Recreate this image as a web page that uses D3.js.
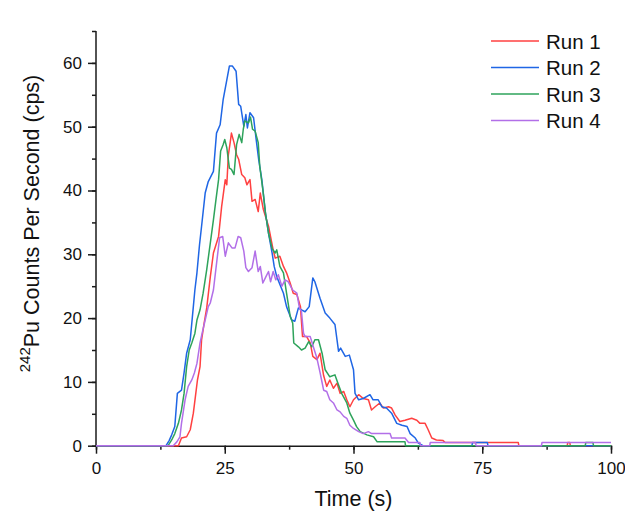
<!DOCTYPE html>
<html>
<head>
<meta charset="utf-8">
<script src="https://cdn.jsdelivr.net/npm/d3@7"></script>
<style>
  html, body { margin: 0; padding: 0; background: #fff; }
  svg { display: block; font-family: "Liberation Sans", Arial, sans-serif; }
</style>
</head>
<body>
<div id="chart"></div>
<script>
// [time (s), counts per second]
const run1 = [[0,0],[16.0,0],[16.6,1.2],[17.6,1.4],[18.3,2.5],[18.9,5.1],[19.3,7.7],[19.7,10.3],[20.2,12.4],[20.5,16.6],[21.0,19.2],[21.5,21.6],[22.2,26.5],[22.8,30.2],[23.8,32.8],[24.4,37.5],[25.1,41.7],[25.4,40.9],[25.7,45.6],[26.0,47.2],[26.3,49.0],[26.8,47.5],[27.3,45.6],[27.7,44.9],[28.3,42.5],[28.9,42.0],[29.3,40.9],[29.9,41.7],[30.3,38.3],[30.9,38.6],[31.5,36.7],[31.9,39.6],[32.5,37.0],[33.5,34.4],[34.4,30.7],[34.8,29.4],[35.7,29.7],[36.4,28.1],[37.0,27.1],[37.7,25.5],[38.3,23.9],[39.0,23.7],[39.7,21.8],[40.1,17.1],[40.9,17.1],[41.6,16.1],[42.1,14.0],[42.9,13.5],[43.5,14.5],[44.2,11.0],[44.8,9.3],[45.4,10.3],[46.1,9.0],[46.8,9.8],[47.4,8.2],[48.1,8.5],[48.7,7.2],[49.3,6.1],[50.0,7.2],[51.0,8.0],[51.9,7.4],[52.9,7.2],[53.5,5.6],[54.2,6.1],[55.1,6.7],[55.8,5.9],[56.8,6.1],[57.4,5.9],[58.1,4.8],[59.0,3.8],[60.0,4.0],[61.3,4.3],[62.3,4.0],[62.9,3.5],[63.9,3.5],[64.5,2.5],[65.2,1.2],[66.1,0.9],[67.4,0.8],[67.8,0.5],[82.0,0.5],[82.1,0],[91.5,0],[91.6,0.5],[92.0,0.5],[92.1,0],[100,0]];

const run2 = [[0,0],[13.6,0],[14.2,0.8],[14.7,1.7],[15.3,3.0],[15.8,8.2],[16.6,8.7],[17.1,11.4],[17.6,14.5],[18.3,16.6],[18.9,21.8],[19.2,24.4],[19.6,27.1],[20.1,31.5],[20.5,34.4],[21.2,39.6],[21.8,41.4],[22.8,43.0],[23.4,49.0],[24.1,50.3],[24.7,54.3],[25.9,59.5],[26.5,59.5],[27.2,58.7],[27.7,53.5],[28.1,53.2],[28.7,50.1],[29.1,51.9],[29.4,49.8],[29.9,52.2],[30.6,51.4],[31.1,48.0],[31.6,44.8],[32.2,41.7],[32.9,36.5],[33.5,33.3],[34.2,30.2],[34.6,28.1],[35.1,26.5],[36.4,23.9],[37.0,21.8],[38.0,19.7],[38.6,19.5],[39.3,21.6],[39.9,21.3],[40.6,21.0],[41.4,21.8],[42.1,26.3],[42.5,25.7],[43.5,23.1],[44.5,20.8],[45.4,20.0],[46.4,19.0],[47.1,14.8],[47.5,15.3],[48.4,14.0],[49.2,14.2],[50.0,11.9],[50.3,8.2],[51.0,7.2],[51.9,7.4],[53.2,8.0],[53.8,7.2],[54.8,7.2],[55.5,6.1],[56.4,5.9],[57.4,5.1],[58.4,3.5],[59.4,3.2],[60.4,3.0],[61.0,1.9],[62.0,1.2],[62.6,0.4],[63.5,0],[73.0,0],[73.1,0.5],[76.0,0.5],[76.1,0],[100,0]];

const run3 = [[0,0],[14.0,0],[14.7,0.9],[15.3,1.9],[16.0,3.5],[16.6,5.6],[17.1,8.2],[17.6,12.4],[18.1,15.0],[18.6,16.1],[19.2,17.6],[19.6,19.7],[20.2,21.3],[20.8,23.9],[21.5,27.6],[22.2,31.8],[22.8,35.4],[23.3,38.6],[23.8,41.7],[24.2,46.2],[24.7,47.2],[25.0,48.0],[25.4,46.7],[25.9,43.5],[26.3,43.3],[26.8,42.5],[27.3,47.2],[27.8,48.8],[28.3,47.5],[28.6,49.6],[28.9,50.9],[29.6,50.6],[30.0,51.5],[30.4,49.6],[30.9,49.3],[31.5,47.5],[31.8,43.8],[32.4,40.1],[32.9,36.5],[33.5,33.3],[34.2,30.9],[34.8,30.2],[35.1,30.7],[35.7,28.1],[36.4,27.1],[37.0,23.9],[37.7,20.3],[38.2,19.2],[38.4,16.1],[39.3,15.5],[39.9,15.0],[40.6,15.3],[41.3,16.3],[41.9,15.5],[42.5,16.6],[43.2,16.6],[43.9,14.5],[44.5,11.9],[45.4,10.8],[46.4,11.1],[47.1,9.5],[47.7,8.2],[48.7,6.7],[49.3,5.1],[50.0,4.0],[50.6,3.0],[51.3,2.2],[52.6,1.7],[53.9,1.4],[54.6,0.6],[60.0,0.6],[60.1,0],[95.0,0],[95.1,0.5],[96.5,0.5],[96.6,0],[100,0]];

const run4 = [[0,0],[15.0,0],[15.7,0.6],[16.3,1.4],[16.6,3.5],[17.3,7.2],[17.9,9.3],[18.6,10.3],[19.1,11.4],[19.6,12.9],[20.2,16.1],[20.6,17.6],[21.2,19.7],[21.8,21.8],[22.2,22.4],[22.8,24.4],[23.5,29.2],[24.0,32.6],[24.6,32.8],[25.1,29.7],[25.7,31.8],[26.4,31.0],[27.0,31.0],[27.6,32.8],[28.1,32.6],[28.7,30.5],[29.1,27.9],[29.6,27.3],[30.3,27.9],[30.9,30.5],[31.5,27.3],[31.9,28.1],[32.4,25.5],[33.0,26.5],[33.5,27.3],[33.9,25.7],[34.4,27.3],[34.9,26.0],[35.4,26.8],[36.1,25.0],[36.7,26.0],[37.3,25.7],[38.2,24.4],[39.0,23.9],[39.5,21.6],[39.9,21.0],[40.3,17.6],[40.6,17.1],[41.6,17.1],[42.2,15.5],[42.9,13.7],[43.5,11.5],[43.8,10.3],[44.2,8.7],[44.8,8.5],[45.4,7.2],[46.1,6.7],[46.8,5.6],[47.4,5.3],[48.1,4.6],[48.7,4.3],[49.3,3.2],[50.0,2.7],[51.0,2.2],[51.9,1.9],[52.9,2.2],[53.5,1.9],[57.1,1.9],[57.4,1.2],[60.0,1.2],[60.7,0.5],[62.9,0.5],[63.0,0],[64.8,0],[64.9,0.5],[73.7,0.5],[73.8,0],[86.5,0],[86.6,0.5],[100,0.5]];

const runNames = ["Run 1", "Run 2", "Run 3", "Run 4"];
const runColors = ["#ff4141", "#1f66e5", "#2ea35b", "#b26fe8"];
const xTicks = [0, 25, 50, 75, 100];
const yTicks = [0, 10, 20, 30, 40, 50, 60];

const width = 625;
const height = 515;
const margin = { top: 31, right: 14, bottom: 69.3, left: 96 };

const x = d3.scaleLinear().domain([0, 100]).range([margin.left, width - margin.right]);
const y = d3.scaleLinear().domain([0, 65]).range([height - margin.bottom, margin.top]);

const svg = d3.select("#chart")
  .append("svg")
  .attr("width", width)
  .attr("height", height);

// axes
const gx = svg.append("g").attr("transform", `translate(0,${y(0)})`);
gx.append("g")
  .call(d3.axisBottom(x).tickValues(d3.range(0, 100.1, 12.5)).tickSize(4).tickFormat(""))
  .call((g) => g.select(".domain").remove());
gx.append("g")
  .call(d3.axisBottom(x).tickValues(xTicks).tickSize(8).tickPadding(8).tickSizeOuter(0))
  .call((g) => g.selectAll("text").attr("font-size", 17).attr("fill", "#111").attr("font-family", null));

const gy = svg.append("g").attr("transform", `translate(${x(0)},0)`);
gy.append("g")
  .call(d3.axisLeft(y).tickValues(d3.range(0, 65.1, 5)).tickSize(4).tickFormat(""))
  .call((g) => g.select(".domain").remove());
gy.append("g")
  .call(d3.axisLeft(y).tickValues(yTicks).tickSize(8).tickPadding(6).tickSizeOuter(0))
  .call((g) => g.select(".domain").attr("d", `M0,${y(0)}V${y(65)}`))
  .call((g) => g.selectAll("text").attr("font-size", 17).attr("fill", "#111").attr("font-family", null));

svg.selectAll(".domain, .tick line").attr("stroke", "#1a1a1a").attr("stroke-width", 1.5);

// lines
const line = d3.line().x((d) => x(d[0])).y((d) => y(d[1]));
[run1, run2, run3, run4].forEach((run, i) => {
  svg.append("path")
    .datum(run)
    .attr("fill", "none")
    .attr("stroke", runColors[i])
    .attr("stroke-width", 1.5)
    .attr("stroke-linejoin", "round")
    .attr("d", line);
});

// titles
svg.append("text")
  .attr("x", (x(0) + x(100)) / 2)
  .attr("y", 506)
  .attr("text-anchor", "middle")
  .attr("font-size", 21.5)
  .attr("fill", "#111")
  .text("Time (s)");

const yTitle = svg.append("text")
  .attr("transform", `translate(39,${(75 + 372) / 2}) rotate(-90)`)
  .attr("text-anchor", "middle")
  .attr("font-size", 21.5)
  .attr("fill", "#111");
yTitle.append("tspan").attr("font-size", 15).attr("dy", -9).text("242");
yTitle.append("tspan").attr("dy", 9).text("Pu Counts Per Second (cps)");

// legend
const legend = svg.append("g").attr("transform", "translate(491,41)");
const item = legend.selectAll("g")
  .data(runNames)
  .join("g")
  .attr("transform", (d, i) => `translate(0,${i * 26.5})`);
item.append("line")
  .attr("x1", 0)
  .attr("x2", 48)
  .attr("stroke", (d, i) => runColors[i])
  .attr("stroke-width", 1.5);
item.append("text")
  .attr("x", 55)
  .attr("y", 7.5)
  .attr("font-size", 20.5)
  .attr("fill", "#111")
  .text((d) => d);
</script>
</body>
</html>
